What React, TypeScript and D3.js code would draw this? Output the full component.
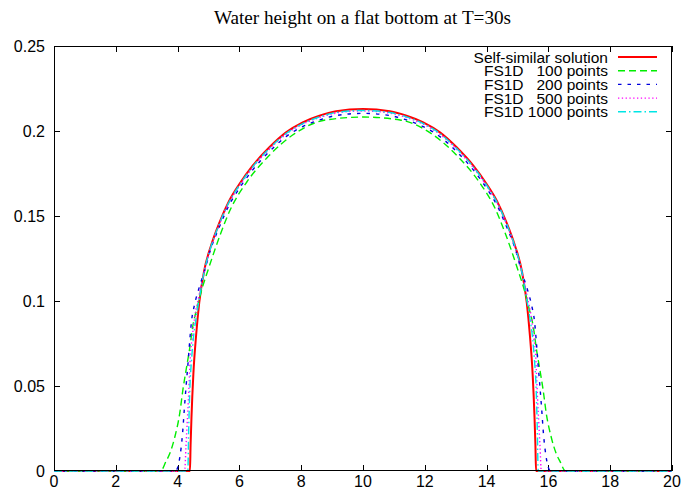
import React from "react";
import * as d3 from "d3";

const xTickValues = [0, 2, 4, 6, 8, 10, 12, 14, 16, 18, 20];
const yTickValues = [0, 0.05, 0.1, 0.15, 0.2, 0.25];
const yTickLabels = ["0", "0.05", "0.1", "0.15", "0.2", "0.25"];

const seriesNames = [
  "Self-similar solution",
  "FS1D   100 points",
  "FS1D   200 points",
  "FS1D   500 points",
  "FS1D 1000 points",
];

const solX = [0, 4.4, 4.42, 4.45, 4.51, 4.6, 4.7, 4.86, 5.08, 5.35, 5.67, 6.0, 6.43, 6.97, 7.51, 8.05, 8.59, 9.13, 10, 10.87, 11.41, 11.95, 12.49, 13.03, 13.57, 14.0, 14.33, 14.65, 14.92, 15.14, 15.3, 15.4, 15.49, 15.55, 15.58, 15.6, 20];
const solH = [0, 0, 0.015, 0.032, 0.057, 0.08, 0.099, 0.1178, 0.1325, 0.146, 0.159, 0.1688, 0.1796, 0.1904, 0.1992, 0.2051, 0.209, 0.2116, 0.2129, 0.2116, 0.209, 0.2051, 0.1992, 0.1904, 0.1796, 0.1688, 0.159, 0.146, 0.1325, 0.1178, 0.099, 0.08, 0.057, 0.032, 0.015, 0, 0];

const g100X = [0, 3.45, 3.62, 3.75, 3.91, 4.07, 4.17, 4.28, 4.39, 4.49, 4.63, 4.78, 5.0, 5.4, 5.7, 6.24, 6.88, 7.8, 8.8, 10, 11.2, 12.2, 13.12, 13.76, 14.3, 14.6, 15.0, 15.22, 15.37, 15.51, 15.61, 15.72, 15.83, 15.93, 16.09, 16.25, 16.38, 16.55, 20];
const g100H = [0, 0, 0.0055, 0.0104, 0.02, 0.034, 0.0476, 0.06, 0.072, 0.085, 0.096, 0.1065, 0.119, 0.14, 0.1535, 0.17, 0.184, 0.1986, 0.2065, 0.2082, 0.2065, 0.1986, 0.184, 0.17, 0.1535, 0.14, 0.119, 0.1065, 0.096, 0.085, 0.072, 0.06, 0.0476, 0.034, 0.02, 0.0104, 0.0055, 0, 0];

const b200X = [0, 3.93, 4.08, 4.16, 4.22, 4.28, 4.34, 4.39, 4.45, 4.55, 4.7, 4.86, 5.08, 5.35, 5.67, 6.0, 6.43, 6.97, 7.51, 8.05, 8.59, 9.13, 10, 10.87, 11.41, 11.95, 12.49, 13.03, 13.57, 14.0, 14.33, 14.65, 14.92, 15.14, 15.3, 15.45, 15.55, 15.61, 15.66, 15.72, 15.78, 15.84, 15.92, 16.07, 20];
const b200H = [0, 0, 0.009, 0.022, 0.037, 0.051, 0.064, 0.076, 0.088, 0.098, 0.108, 0.117, 0.131, 0.1435, 0.1565, 0.1663, 0.1771, 0.1879, 0.1967, 0.2026, 0.2065, 0.2091, 0.2104, 0.2091, 0.2065, 0.2026, 0.1967, 0.1879, 0.1771, 0.1663, 0.1565, 0.1435, 0.131, 0.117, 0.108, 0.098, 0.088, 0.076, 0.064, 0.051, 0.037, 0.022, 0.009, 0, 0];

const m500X = [0, 4.23, 4.27, 4.31, 4.35, 4.38, 4.41, 4.47, 4.55, 4.68, 4.86, 5.08, 5.35, 5.67, 6.0, 6.43, 6.97, 7.51, 8.05, 8.59, 9.13, 10, 10.87, 11.41, 11.95, 12.49, 13.03, 13.57, 14.0, 14.33, 14.65, 14.92, 15.14, 15.32, 15.45, 15.53, 15.59, 15.62, 15.65, 15.69, 15.73, 15.77, 20];
const m500H = [0, 0, 0.014, 0.028, 0.042, 0.055, 0.067, 0.078, 0.09, 0.102, 0.117, 0.1315, 0.145, 0.158, 0.1677, 0.1785, 0.1893, 0.1981, 0.204, 0.2079, 0.2105, 0.2118, 0.2105, 0.2079, 0.204, 0.1981, 0.1893, 0.1785, 0.1677, 0.158, 0.145, 0.1315, 0.117, 0.102, 0.09, 0.078, 0.067, 0.055, 0.042, 0.028, 0.014, 0, 0];

const c1000X = [0, 4.33, 4.36, 4.4, 4.45, 4.51, 4.6, 4.7, 4.86, 5.08, 5.35, 5.67, 6.0, 6.43, 6.97, 7.51, 8.05, 8.59, 9.13, 10, 10.87, 11.41, 11.95, 12.49, 13.03, 13.57, 14.0, 14.33, 14.65, 14.92, 15.14, 15.3, 15.4, 15.49, 15.55, 15.6, 15.64, 15.67, 20];
const c1000H = [0, 0, 0.025, 0.05, 0.065, 0.078, 0.09, 0.101, 0.1172, 0.1319, 0.1453, 0.1583, 0.1681, 0.1789, 0.1897, 0.1985, 0.2044, 0.2083, 0.2109, 0.2121, 0.2109, 0.2083, 0.2044, 0.1985, 0.1897, 0.1789, 0.1681, 0.1583, 0.1453, 0.1319, 0.1172, 0.101, 0.09, 0.078, 0.065, 0.05, 0.025, 0, 0];

const W = 685;
const H = 490;
const left = 54;
const right = 672;
const top = 46;
const bottom = 471;

const styles = [
  { color: "#ff0000", width: 2, dash: "none" },
  { color: "#00ee00", width: 1.4, dash: "7,4" },
  { color: "#0000dd", width: 1.4, dash: "3.5,6" },
  { color: "#ff00ff", width: 1.4, dash: "1.3,2.5" },
  { color: "#00e5e5", width: 1.4, dash: "8,3,1.5,3" },
];

export default function App() {
  const x = d3.scaleLinear().domain([0, 20]).range([left, right]);
  const y = d3.scaleLinear().domain([0, 0.25]).range([bottom, top]);
  const line = d3
    .line<[number, number]>()
    .x((d) => x(d[0]))
    .y((d) => y(d[1]))
    .curve(d3.curveMonotoneX);

  const series = [
    [solX, solH],
    [g100X, g100H],
    [b200X, b200H],
    [m500X, m500H],
    [c1000X, c1000H],
  ].map(([xs, hs]) => xs.map((v, i) => [v, hs[i]] as [number, number]));

  const sans = "'Liberation Sans', Arial, Helvetica, sans-serif";
  const tick = 6;

  return (
    <svg
      width={W}
      height={H}
      style={{ position: "absolute", left: 0, top: 0, background: "#fff" }}
    >
      <rect x={0} y={0} width={W} height={H} fill="#fff" />
      <text
        x={362.5}
        y={24}
        textAnchor="middle"
        fontFamily="'Liberation Serif', 'Times New Roman', serif"
        fontSize={19.2}
        fill="#000"
      >
        Water height on a flat bottom at T=30s
      </text>

      <g stroke="#000" strokeWidth={1}>
        {xTickValues.map((v) => (
          <g key={"xt" + v}>
            <line x1={Math.round(x(v)) + 0.5} x2={Math.round(x(v)) + 0.5} y1={bottom} y2={bottom - tick} />
            <line x1={Math.round(x(v)) + 0.5} x2={Math.round(x(v)) + 0.5} y1={top} y2={top + tick} />
          </g>
        ))}
        {yTickValues.map((v) => (
          <g key={"yt" + v}>
            <line x1={left} x2={left + tick} y1={Math.round(y(v)) + 0.5} y2={Math.round(y(v)) + 0.5} />
            <line x1={right} x2={right - tick} y1={Math.round(y(v)) + 0.5} y2={Math.round(y(v)) + 0.5} />
          </g>
        ))}
      </g>

      <g fontFamily={sans} fontSize={16} fill="#000">
        {xTickValues.map((v) => (
          <text key={"xl" + v} x={x(v)} y={487} textAnchor="middle">
            {String(v)}
          </text>
        ))}
        {yTickValues.map((v, i) => (
          <text key={"yl" + v} x={45} y={y(v)} dy="0.36em" textAnchor="end">
            {yTickLabels[i]}
          </text>
        ))}
      </g>

      <g fill="none">
        {series.map((pts, i) => (
          <path
            key={"s" + i}
            d={line(pts) || ""}
            stroke={styles[i].color}
            strokeWidth={styles[i].width}
            strokeDasharray={styles[i].dash}
          />
        ))}
      </g>

      <g fontFamily={sans} fontSize={15.5} fill="#000">
        {seriesNames.map((name, i) => {
          const cy = 57 + i * 13.7;
          return (
            <g key={"lg" + i}>
              <text x={608} y={cy} dy="0.36em" textAnchor="end" style={{ whiteSpace: "pre" }}>
                {name}
              </text>
              <line
                x1={618}
                x2={657}
                y1={cy}
                y2={cy}
                stroke={styles[i].color}
                strokeWidth={styles[i].width}
                strokeDasharray={styles[i].dash}
              />
            </g>
          );
        })}
      </g>

      <rect
        x={left + 0.5}
        y={top + 0.5}
        width={right - left - 1}
        height={bottom - top - 1}
        fill="none"
        stroke="#000"
        strokeWidth={1}
      />
    </svg>
  );
}
